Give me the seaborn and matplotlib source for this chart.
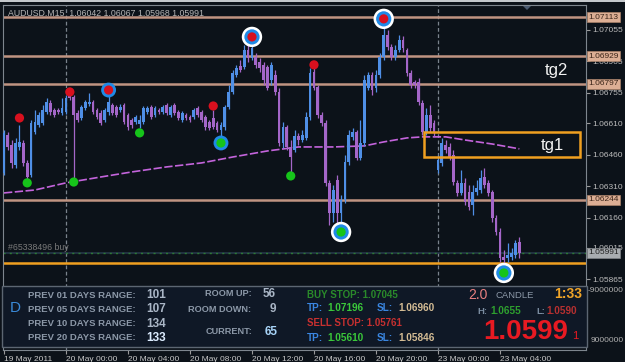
import numpy as np
import pandas as pd
import matplotlib
matplotlib.use("Agg")
import matplotlib.pyplot as plt
import seaborn as sns
from matplotlib.patches import Rectangle, Polygon
from matplotlib.transforms import blended_transform_factory

# ---------------- data ----------------
symbol_title = "AUDUSD.M15  1.06042 1.06067 1.05968 1.05991"

opens = [1.06372, 1.06553, 1.06506, 1.06410, 1.06496, 1.06515, 1.06420, 1.06363, 1.06568, 1.06601,
         1.06610, 1.06663, 1.06706, 1.06672, 1.06672, 1.06658, 1.06663, 1.06744, 1.06734, 1.06658,
         1.06634, 1.06682, 1.06701, 1.06710, 1.06672, 1.06658, 1.06625, 1.06663, 1.06696, 1.06687,
         1.06672, 1.06696, 1.06648, 1.06625, 1.06615, 1.06606, 1.06615, 1.06663, 1.06687, 1.06648,
         1.06672, 1.06663, 1.06696, 1.06648, 1.06696, 1.06663, 1.06625, 1.06648, 1.06639, 1.06639,
         1.06682, 1.06663, 1.06639, 1.06615, 1.06634, 1.06610, 1.06577, 1.06591, 1.06687, 1.06758,
         1.06839, 1.06882, 1.06877, 1.06958, 1.06920, 1.06925, 1.06901, 1.06887, 1.06877, 1.06815,
         1.06839, 1.06758, 1.06515, 1.06591, 1.06496, 1.06482, 1.06548, 1.06529, 1.06539, 1.06639,
         1.06853, 1.06782, 1.06648, 1.06610, 1.06325, 1.06182, 1.06339, 1.06182, 1.06244, 1.06425,
         1.06544, 1.06568, 1.06444, 1.06515, 1.06777, 1.06839, 1.06777, 1.06839, 1.06925, 1.07029,
         1.06972, 1.06925, 1.06958, 1.07006, 1.06958, 1.06848, 1.06805, 1.06805, 1.06706, 1.06568,
         1.06648, 1.06610, 1.06386, 1.06420, 1.06506, 1.06496, 1.06458, 1.06325, 1.06277, 1.06325,
         1.06282, 1.06220, 1.06282, 1.06291, 1.06353, 1.06325, 1.06282, 1.06158, 1.06091, 1.05972,
         1.05967, 1.05972, 1.05982, 1.06042]

highs = [1.06577, 1.06568, 1.06529, 1.06539, 1.06601, 1.06529, 1.06434, 1.06625, 1.06672, 1.06663,
         1.06696, 1.06729, 1.06720, 1.06682, 1.06682, 1.06729, 1.06744, 1.06758, 1.06744, 1.06672,
         1.06696, 1.06720, 1.06753, 1.06720, 1.06682, 1.06672, 1.06682, 1.06739, 1.06706, 1.06696,
         1.06701, 1.06706, 1.06658, 1.06634, 1.06648, 1.06648, 1.06691, 1.06691, 1.06696, 1.06691,
         1.06682, 1.06696, 1.06706, 1.06696, 1.06706, 1.06672, 1.06667, 1.06658, 1.06648, 1.06682,
         1.06691, 1.06672, 1.06648, 1.06625, 1.06672, 1.06620, 1.06615, 1.06696, 1.06791, 1.06863,
         1.06887, 1.06910, 1.06982, 1.06982, 1.06996, 1.06944, 1.06920, 1.06901, 1.06887, 1.06901,
         1.06863, 1.06777, 1.06615, 1.06601, 1.06529, 1.06577, 1.06563, 1.06577, 1.06663, 1.06872,
         1.06872, 1.06791, 1.06663, 1.06625, 1.06339, 1.06315, 1.06363, 1.06267, 1.06458, 1.06577,
         1.06587, 1.06577, 1.06625, 1.06839, 1.06853, 1.06853, 1.06863, 1.06944, 1.07077, 1.07053,
         1.06986, 1.06982, 1.07029, 1.07024, 1.06967, 1.06863, 1.06815, 1.06825, 1.06720, 1.06682,
         1.06696, 1.06625, 1.06458, 1.06539, 1.06529, 1.06515, 1.06482, 1.06339, 1.06386, 1.06348,
         1.06315, 1.06315, 1.06339, 1.06386, 1.06396, 1.06339, 1.06291, 1.06172, 1.06110, 1.06006,
         1.06039, 1.06015, 1.06053, 1.06067]

lows = [1.06363, 1.06482, 1.06396, 1.06396, 1.06482, 1.06406, 1.06339, 1.06353, 1.06558, 1.06591,
        1.06601, 1.06653, 1.06648, 1.06639, 1.06653, 1.06648, 1.06653, 1.06720, 1.06348, 1.06615,
        1.06625, 1.06672, 1.06691, 1.06653, 1.06629, 1.06601, 1.06615, 1.06648, 1.06648, 1.06639,
        1.06663, 1.06606, 1.06577, 1.06587, 1.06606, 1.06587, 1.06606, 1.06653, 1.06629, 1.06639,
        1.06653, 1.06653, 1.06648, 1.06639, 1.06648, 1.06625, 1.06615, 1.06625, 1.06615, 1.06629,
        1.06639, 1.06615, 1.06577, 1.06577, 1.06582, 1.06568, 1.06539, 1.06577, 1.06677, 1.06748,
        1.06829, 1.06853, 1.06868, 1.06901, 1.06910, 1.06872, 1.06853, 1.06791, 1.06767, 1.06791,
        1.06744, 1.06501, 1.06491, 1.06482, 1.06377, 1.06472, 1.06506, 1.06520, 1.06529, 1.06625,
        1.06767, 1.06634, 1.06596, 1.06310, 1.06125, 1.06139, 1.06125, 1.06120, 1.06229, 1.06410,
        1.06529, 1.06434, 1.06434, 1.06501, 1.06767, 1.06744, 1.06758, 1.06825, 1.06910, 1.06958,
        1.06910, 1.06910, 1.06948, 1.06948, 1.06834, 1.06777, 1.06777, 1.06696, 1.06553, 1.06553,
        1.06568, 1.06548, 1.06372, 1.06406, 1.06467, 1.06434, 1.06315, 1.06262, 1.06267, 1.06220,
        1.06196, 1.06172, 1.06267, 1.06277, 1.06301, 1.06262, 1.06139, 1.06077, 1.05948, 1.05901,
        1.05948, 1.05958, 1.05967, 1.05968]

closes = [1.06563, 1.06496, 1.06420, 1.06515, 1.06520, 1.06420, 1.06353, 1.06610, 1.06615, 1.06648,
          1.06672, 1.06710, 1.06663, 1.06648, 1.06663, 1.06682, 1.06729, 1.06729, 1.06648, 1.06625,
          1.06687, 1.06710, 1.06710, 1.06663, 1.06639, 1.06610, 1.06672, 1.06710, 1.06658, 1.06648,
          1.06687, 1.06615, 1.06591, 1.06601, 1.06639, 1.06625, 1.06682, 1.06682, 1.06639, 1.06682,
          1.06663, 1.06687, 1.06658, 1.06687, 1.06658, 1.06634, 1.06658, 1.06634, 1.06625, 1.06672,
          1.06648, 1.06625, 1.06591, 1.06587, 1.06591, 1.06577, 1.06601, 1.06687, 1.06758, 1.06848,
          1.06872, 1.06863, 1.06958, 1.06920, 1.06967, 1.06887, 1.06872, 1.06815, 1.06777, 1.06887,
          1.06758, 1.06515, 1.06591, 1.06496, 1.06448, 1.06548, 1.06529, 1.06553, 1.06639, 1.06848,
          1.06777, 1.06648, 1.06610, 1.06325, 1.06182, 1.06291, 1.06182, 1.06244, 1.06425, 1.06553,
          1.06568, 1.06444, 1.06515, 1.06815, 1.06839, 1.06767, 1.06839, 1.06925, 1.07029, 1.06972,
          1.06925, 1.06958, 1.07006, 1.06967, 1.06848, 1.06791, 1.06791, 1.06710, 1.06568, 1.06648,
          1.06587, 1.06563, 1.06434, 1.06515, 1.06482, 1.06444, 1.06329, 1.06277, 1.06325, 1.06234,
          1.06210, 1.06282, 1.06301, 1.06348, 1.06315, 1.06277, 1.06158, 1.06091, 1.05967, 1.05958,
          1.05982, 1.05991, 1.06039, 1.05991]

time_ticks = [0, 16, 32, 48, 64, 80, 96, 112, 128]
time_labels = ["19 May 2011", "20 May 00:00", "20 May 04:00", "20 May 08:00", "20 May 12:00",
               "20 May 16:00", "20 May 20:00", "23 May 00:00", "23 May 04:00"]
day_separators = [16, 112]

ma_index = [0, 8, 16, 25, 33, 42, 51, 59, 68, 76, 85, 93, 98, 104, 108, 114, 119, 126, 133]
ma_values = [1.06277, 1.06291, 1.06325, 1.06353, 1.06377, 1.06401, 1.06420, 1.06448, 1.06477, 1.06496,
             1.06496, 1.06501, 1.06520, 1.06539, 1.06544, 1.06544, 1.06529, 1.06510, 1.06487]

up_fractal_index = [4, 17, 27, 54, 64, 80, 98]
up_fractal_price = [1.06634, 1.06758, 1.06767, 1.06691, 1.07020, 1.06887, 1.07106]
down_fractal_index = [6, 18, 35, 56, 74, 87, 129]
down_fractal_price = [1.06325, 1.06329, 1.06563, 1.06515, 1.06358, 1.06091, 1.05896]
blue_ring_index = [27, 56]
white_ring_index = [64, 98, 87, 129]

level_prices = [1.07113, 1.06929, 1.06797, 1.06244]
level_labels = ["1.07113", "1.06929", "1.06797", "1.06244"]
orange_level = 1.05944
bid_price = 1.05991
bid_label = "1.05991"
tg1_zone = (108.5, 148.6, 1.06448, 1.06568)   # start, end, bottom, top

price_ticks = [1.07055, 1.06905, 1.06755, 1.06610, 1.06460, 1.06310, 1.06160, 1.06015, 1.05865]
price_tick_labels = ["1.07055", "1.06905", "1.06755", "1.06610", "1.06460", "1.06310",
                     "1.06160", "1.06015", "1.05865"]

range_labels = ["PREV 01 DAYS RANGE:", "PREV 05 DAYS RANGE:", "PREV 10 DAYS RANGE:", "PREV 20 DAYS RANGE:"]
range_values = ["101", "107", "134", "133"]
room_labels = ["ROOM UP:", "ROOM DOWN:", "CURRENT:"]
room_values = ["56", "9", "65"]

# ---------------- style ----------------
BG = "#0c1219"
PANEL = "#0f1826"
UP = "#4f8fe6"
DN = "#a466c8"
sns.set_theme(style="dark", rc={"axes.facecolor": BG, "figure.facecolor": BG})
plt.rcParams["font.family"] = ["Liberation Sans", "DejaVu Sans"]

W, H = 625, 362
fig = plt.figure(figsize=(6.25, 3.62), dpi=100, facecolor=BG)


def fx(x):
    return x / W


def fy(y):
    return 1 - y / H


ax = fig.add_axes([fx(3), fy(350), (586 - 3) / W, (350 - 5) / H])
ax.set_facecolor(BG)

df = pd.DataFrame({"i": np.arange(len(opens)), "o": opens, "h": highs, "l": lows, "c": closes})
is_up = df["c"] >= df["o"]
cols = np.where(is_up, UP, DN)
ax.vlines(df["i"], df["l"], df["h"], colors=cols, lw=0.9, zorder=3)
body = np.maximum((df["c"] - df["o"]).abs(), 0.00004)
ax.bar(df["i"], body, bottom=np.minimum(df["o"], df["c"]), width=0.72, color=cols, lw=0, zorder=3)

# moving average
sns.lineplot(x=ma_index, y=ma_values, ax=ax, color="#c464dc", lw=1.2, zorder=2,
             linestyle=(0, (5, 1.5)))

# horizontal levels
for p in level_prices:
    ax.axhline(p, color="#c09482", lw=1.8, zorder=1.5)
ax.axhline(orange_level, color="#f0a020", lw=1.8, zorder=1.5)
ax.axhline(bid_price, color="#26384a", lw=1.2, zorder=1.4)
ax.axhline(bid_price, color="#2c7a34", lw=1.0, zorder=1.45, linestyle=(0, (1.5, 3)))

# day separators
for d in day_separators:
    ax.axvline(d, color="#7a828c", lw=0.9, linestyle=(0, (3, 2)), zorder=1)

# tg1 zone
z0, z1, zb, zt = tg1_zone
ax.add_patch(Rectangle((z0, zb), z1 - z0, zt - zb, fill=False, ec="#f0a020", lw=1.8, zorder=4))

# fractals
white_up = [p for i, p in zip(up_fractal_index, up_fractal_price) if i in white_ring_index]
white_dn = [p for i, p in zip(down_fractal_index, down_fractal_price) if i in white_ring_index]
wx = [i for i in up_fractal_index if i in white_ring_index] + [i for i in down_fractal_index if i in white_ring_index]
sns.scatterplot(x=wx, y=white_up + white_dn, ax=ax, s=215, color="white", edgecolor="none", zorder=5, legend=False)
sns.scatterplot(x=wx, y=white_up + white_dn, ax=ax, s=120, color="#1f8ae6", edgecolor="none", zorder=5.1, legend=False)
bx = [i for i in up_fractal_index if i in blue_ring_index] + [i for i in down_fractal_index if i in blue_ring_index]
by = [p for i, p in zip(up_fractal_index, up_fractal_price) if i in blue_ring_index] + \
     [p for i, p in zip(down_fractal_index, down_fractal_price) if i in blue_ring_index]
sns.scatterplot(x=bx, y=by, ax=ax, s=115, color="#1f8ae6", edgecolor="none", zorder=5.1, legend=False)
sns.scatterplot(x=up_fractal_index, y=up_fractal_price, ax=ax, s=44, color="#d8101e", edgecolor="none", zorder=6, legend=False)
sns.scatterplot(x=down_fractal_index, y=down_fractal_price, ax=ax, s=44, color="#16c41a", edgecolor="none", zorder=6, legend=False)

# axes ranges and ticks
ax.set_xlim(-0.25, -0.25 + 583 / 3.875)
ax.set_ylim(1.05529, 1.07172)
ax.set_xticks(time_ticks)
ax.set_xticklabels(time_labels)
for lbl in ax.get_xticklabels():
    lbl.set_ha("left")
ax.set_yticks(price_ticks)
ax.set_yticklabels(price_tick_labels)
ax.yaxis.tick_right()
ax.tick_params(axis="y", direction="out", length=3, width=0.8, color="#9a9a9a", labelcolor="#bcbcbc",
               labelsize=6, pad=1.5, left=False, right=True, labelleft=False, labelright=True)
ax.tick_params(axis="x", direction="out", length=3, width=0.8, color="#9a9a9a", labelcolor="#c8c8c8",
               labelsize=6, pad=1.5, bottom=True)
ax.set_xlabel("")
ax.set_ylabel("")
ax.grid(False)
for sp in ax.spines.values():
    sp.set_color("#7e868e")
    sp.set_linewidth(0.8)
    sp.set_visible(True)

# price label boxes on the axis
tr = blended_transform_factory(ax.transAxes, ax.transData)
for p, s in zip(level_prices, level_labels):
    ax.text(1.0035, p, s, transform=tr, fontsize=6, color="#3a2418", ha="left", va="center", zorder=20,
            clip_on=False, bbox=dict(boxstyle="square,pad=0.18", fc="#dcae94", ec="#a88068", lw=0.5))
ax.text(1.0035, bid_price, bid_label, transform=tr, fontsize=6, color="#202020", ha="left", va="center",
        zorder=20, clip_on=False, bbox=dict(boxstyle="square,pad=0.18", fc="#a8acb0", ec="#808488", lw=0.5))

# top window strip and shift marker
fig.add_artist(Rectangle((0, fy(1.5)), 1, 1.5 / H, transform=fig.transFigure, fc="#c4c8cc", ec="none", zorder=40))
fig.add_artist(Polygon([[fx(523), fy(6)], [fx(531), fy(6)], [fx(527), fy(10)]], closed=True,
                       transform=fig.transFigure, fc="#4a5a70", ec="none", zorder=40))


def T(x, y, s, color, size, weight="normal", ha="left", va="center", z=41):
    fig.text(fx(x), fy(y), s, color=color, fontsize=size, fontweight=weight, ha=ha, va=va, zorder=z)


T(8, 13.5, symbol_title, "#b4b4b4", 6.3)
T(556, 70, "tg2", "#f2f2f2", 12, ha="center")
T(552, 145.5, "tg1", "#f2f2f2", 12, ha="center")
T(8, 248, "#65338496 buy", "#7a7a7a", 6.3)

# info panel
fig.add_artist(Rectangle((fx(2), fy(347)), (587 - 2) / W, (347 - 286) / H, transform=fig.transFigure,
                         fc=PANEL, ec="#5c6672", lw=1, zorder=30))
T(15, 308, "D", "#3a8ad8", 11, ha="center")
for k, (lab, val) in enumerate(zip(range_labels, range_values)):
    yy = [295, 309, 324, 338][k]
    T(28, yy, lab, "#8c98a8", 6.8, "bold")
    T(146, yy, val, "#dcecff" if k == 3 else "#aab6c6", 8.5, "bold")
room_y = [294, 309, 332]
room_rx = [252, 251, 253]
room_vx = [263, 270, 265]
for k in range(3):
    T(room_rx[k], room_y[k], room_labels[k], "#8c98a8", 6.6, "bold", ha="right")
    T(room_vx[k], room_y[k], room_values[k], "#a8d4f8" if k == 2 else "#aab6c6", 8.5, "bold")

T(307, 295, "BUY STOP: 1.07045", "#2a8a2a", 7, "bold")
T(307, 308, "TP:", "#3a86e0", 7.2, "bold")
T(327, 308, "1.07196", "#3ac83a", 7.2, "bold")
T(377, 308, "SL:", "#3a86e0", 7.2, "bold")
T(398, 308, "1.06960", "#d4bc94", 7.2, "bold")
T(307, 323, "SELL STOP: 1.05761", "#c83030", 7, "bold")
T(307, 338, "TP:", "#3a86e0", 7.2, "bold")
T(327, 338, "1.05610", "#3ac83a", 7.2, "bold")
T(377, 338, "SL:", "#3a86e0", 7.2, "bold")
T(398, 338, "1.05846", "#d4bc94", 7.2, "bold")

T(468, 295, "2.0", "#e88080", 10)
T(496, 295, "CANDLE", "#8c98a8", 6.8)
T(554, 294.5, "1:33", "#f0a428", 10, "bold")
T(477, 311, "H:", "#7a8ca0", 6.8, "bold")
T(490, 311, "1.0655", "#2ea02e", 7.2, "bold")
T(536, 311, "L:", "#7a8ca0", 6.8, "bold")
T(546, 311, "1.0590", "#b83030", 7.2, "bold")
T(483, 332, "1.0599", "#e81a22", 20, "bold")
T(572, 336, "1", "#e81a22", 8)

T(588, 290, "-9000000", "#b0b0b0", 6)
T(591, 340, "9000000", "#b0b0b0", 6)

fig.savefig("out.png", dpi=100, facecolor=BG)
